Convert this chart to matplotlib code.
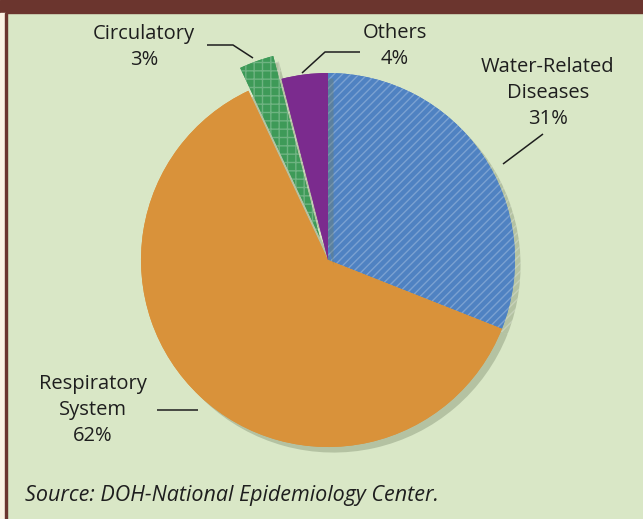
import matplotlib
matplotlib.use("Agg")
import matplotlib.pyplot as plt
import matplotlib.patheffects as pe
from matplotlib.patches import Rectangle

# causes of illness, share of cases (%)
causes = ["Water-Related\nDiseases", "Respiratory\nSystem", "Circulatory", "Others"]
shares = [31, 62, 3, 4]
colors = ["#4f82c2", "#d9923a", "#3e9a58", "#7b2b8e"]
hatches = ["////", "", "++", ""]
pull_out = [0, 0, 0.13, 0]   # fraction of the radius
source = "Source: DOH-National Epidemiology Center."

W, H = 643, 519
fig = plt.figure(figsize=(W / 100, H / 100), dpi=100)
fig.patch.set_facecolor("#d9e7c6")
ax = fig.add_axes([0, 0, 1, 1])

cx, cy, r = 328, H - 260, 187
plt.rcParams["hatch.linewidth"] = 1.0
wedges, _ = ax.pie(shares, colors=colors, startangle=90, counterclock=False,
                   explode=[p * r for p in pull_out], center=(cx, cy), radius=r,
                   frame=True, wedgeprops=dict(linewidth=0))
for w, h in zip(wedges, hatches):
    if h:
        w.set_hatch(h)
        w.set_edgecolor((1, 1, 1, 0.25))
    w.set_path_effects([pe.withSimplePatchShadow(offset=(4, -4), shadow_rgbFace="#6f7d60", alpha=0.35),
                        pe.Normal()])
ax.set_xlim(0, W)
ax.set_ylim(0, H)
ax.set_aspect("equal")
ax.axis("off")

# frame: brown band on top, thin rule on the left
ax.add_patch(Rectangle((0, H - 13), W, 13, color="#6b352e", zorder=5))
ax.add_patch(Rectangle((0, 0), 5, H - 13, color="#fbf3e4", zorder=5))
ax.add_patch(Rectangle((5, 0), 2, H - 13, color="#6b352e", zorder=5))

font = dict(family="Open Sans", fontsize=14.5, color="#1e1e1e", ha="center", va="center",
            linespacing=1.42)

def label(x, y, text):
    ax.text(x, H - y, text, **font)

def leader(pts):
    xs = [p[0] for p in pts]
    ys = [H - p[1] for p in pts]
    ax.plot(xs, ys, color="#1e1e1e", lw=1.1, solid_capstyle="butt")

label(144, 47, f"{causes[2]}\n{shares[2]}%")
leader([(207, 45), (233, 45), (253, 58)])

label(395, 46, f"{causes[3]}\n{shares[3]}%")
leader([(360, 52), (325, 52), (302, 73)])

label(548, 93, f"{causes[0]}\n{shares[0]}%")
leader([(543, 134), (503, 164)])

label(93, 410, f"{causes[1]}\n{shares[1]}%")
leader([(157, 410), (198, 410)])

ax.text(25, H - 496, source, family="Open Sans", style="italic", fontsize=15.5,
        color="#1e1e1e", ha="left", va="center")

fig.savefig("out.png", dpi=100)
